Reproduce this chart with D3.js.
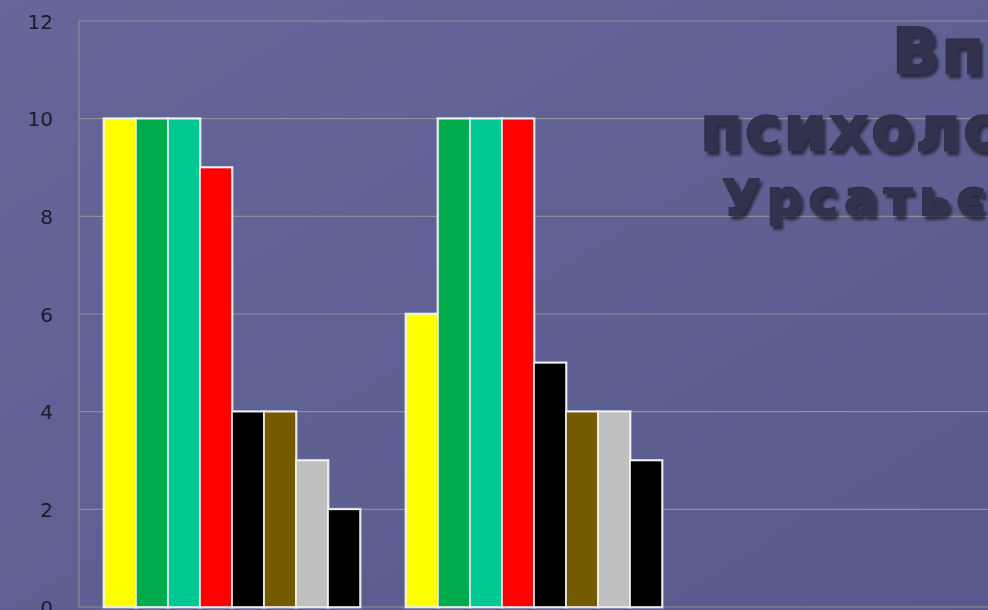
<!DOCTYPE html>
<html><head><meta charset="utf-8">
<script src="https://cdn.jsdelivr.net/npm/d3@7"></script>
<style>html,body{margin:0;padding:0;overflow:hidden;background:#5f6194}</style>
</head><body>
<svg id="c" width="988" height="610"></svg>
<script>
const categories = ["A", "B", "C"];
const seriesNames = ["s1","s2","s3","s4","s5","s6","s7","s8"];
const seriesColors = ["#ffff00","#00ab4e","#00c994","#ff0000","#000000","#745a00","#c0c0c0","#000000"];
const values = [
  [10,10,10,9,4,4,3,2],
  [6,10,10,10,5,4,4,3],
  [null,null,null,null,null,null,null,null]
];
const yTicks = [0,2,4,6,8,10,12];
const titleLines = ["Вплив", "психологічного", "Урсатьєва"];

const svg = d3.select("#c");
const W = 988, H = 610;
const defs = svg.append("defs");
const bg = defs.append("linearGradient").attr("id","bg").attr("x1",0).attr("y1",0).attr("x2",1).attr("y2",1);
bg.append("stop").attr("offset","0%").attr("stop-color","#65679a");
bg.append("stop").attr("offset","100%").attr("stop-color","#585a8c");
const sh = defs.append("filter").attr("id","sh").attr("x","-10%").attr("y","-10%").attr("width","130%").attr("height","140%");
sh.append("feDropShadow").attr("dx",3).attr("dy",4).attr("stdDeviation",1.5).attr("flood-color","#000").attr("flood-opacity",0.55);
const glow = defs.append("filter").attr("id","glow").attr("x","-20%").attr("y","-5%").attr("width","140%").attr("height","110%");
glow.append("feGaussianBlur").attr("stdDeviation",0.7);

svg.append("rect").attr("width",W).attr("height",H).attr("fill","url(#bg)");

const m = {left:79, right:985, top:21, bottom:607};
const x0 = d3.scaleBand().domain(categories).range([m.left + 2, m.right + 2]).paddingInner(0.152).paddingOuter(0.076);
const x1 = d3.scaleBand().domain(seriesNames).range([0, x0.bandwidth()]);
const y = d3.scaleLinear().domain([0,12]).range([m.bottom, m.top]);

// grid
svg.append("g").selectAll("line").data(yTicks).join("line")
  .attr("x1", m.left).attr("x2", W).attr("y1", d=>y(d)).attr("y2", d=>y(d))
  .attr("stroke","#8e8d92").attr("stroke-width",1.2);
svg.append("line").attr("x1",m.left).attr("x2",m.left).attr("y1",m.top).attr("y2",m.bottom)
  .attr("stroke","#8e8d92").attr("stroke-width",1.2);

// y axis labels
const yAxis = d3.axisLeft(y).tickValues(yTicks).tickSize(0).tickPadding(0);
const ga = svg.append("g").attr("transform",`translate(53,0)`).call(yAxis);
ga.select(".domain").remove();
ga.selectAll("text").attr("font-family","DejaVu Sans, Verdana, sans-serif").attr("font-size",20)
  .attr("fill","#1c1c2c").attr("dy","0.35em");

// bars
const groups = svg.append("g").selectAll("g").data(categories).join("g")
  .attr("transform", d=>`translate(${x0(d)},0)`);
groups.each(function(cat, ci){
  const g = d3.select(this);
  const data = values[ci].map((v,i)=>({v, s:seriesNames[i], c:seriesColors[i]})).filter(d=>d.v!=null);
  g.selectAll("rect.halo").data(data).join("rect").attr("class","halo")
    .attr("x", d=>x1(d.s)).attr("width", x1.bandwidth())
    .attr("y", d=>y(d.v)).attr("height", d=>y(0)-y(d.v))
    .attr("fill","none").attr("stroke","#ffffff").attr("stroke-width",3).attr("opacity",0.6).attr("filter","url(#glow)");
  g.selectAll("rect.bar").data(data).join("rect").attr("class","bar")
    .attr("x", d=>x1(d.s)).attr("width", x1.bandwidth())
    .attr("y", d=>y(d.v)).attr("height", d=>y(0)-y(d.v))
    .attr("fill", d=>d.c).attr("stroke","#f4f4f4").attr("stroke-width",1.6);
});

// title
const tg = svg.append("g").attr("filter","url(#sh)")
  .attr("font-family","'DejaVu Sans', sans-serif").attr("font-weight","bold").attr("fill","#30314f")
  .attr("stroke","#30314f").attr("stroke-width",1.8).attr("stroke-linejoin","round");
tg.append("text").attr("x",892).attr("y",73).attr("font-size",62).attr("letter-spacing",2).text(titleLines[0]);
tg.append("text").attr("x",700).attr("y",150).attr("font-size",62).attr("letter-spacing",2).text(titleLines[1]);
tg.append("text").attr("x",722).attr("y",215).attr("font-size",50).attr("letter-spacing",6).text(titleLines[2]);
</script>
</body></html>
